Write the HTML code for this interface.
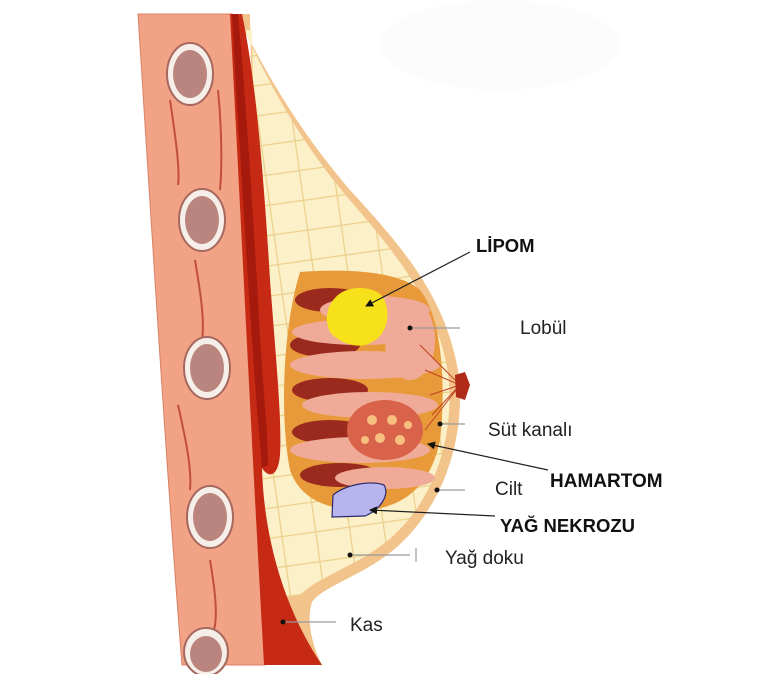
<!DOCTYPE html>
<html><head><meta charset="utf-8"><style>
html,body{margin:0;padding:0;background:#fff;width:768px;height:674px;overflow:hidden}
svg{display:block}
text{font-family:"Liberation Sans",sans-serif;fill:#222}
.b{font-weight:bold;fill:#111}
</style></head><body>
<svg width="768" height="674" viewBox="0 0 768 674" xmlns="http://www.w3.org/2000/svg">
<defs>
<pattern id="grid" width="34" height="30" patternUnits="userSpaceOnUse" patternTransform="rotate(-8)">
<rect width="34" height="30" fill="#fbf0c8"/>
<path d="M0 0H34M0 0V30" stroke="#ecd08a" stroke-width="2.5" fill="none"/>
</pattern>
<marker id="ar" markerWidth="8" markerHeight="8" refX="7" refY="4" orient="auto" markerUnits="userSpaceOnUse"><path d="M0 0L8 4L0 8Z" fill="#111"/></marker>
</defs>
<ellipse cx="500" cy="45" rx="120" ry="45" fill="#fcfcfc"/>
<path d="M236 14 C260 60 290 120 350 190 C410 255 445 300 458 370 C468 440 440 520 380 560 C350 580 322 588 312 602 C306 620 312 645 322 665 L262 665 L250 14Z" fill="#f2c48c"/>
<path d="M244 30 C268 80 295 135 348 198 C402 260 436 305 448 372 C456 440 432 512 375 550 C345 570 318 578 300 595 L262 600 L252 30Z" fill="url(#grid)"/>
<path d="M138 14 L232 14 C240 200 252 450 265 665 L182 665 C165 450 150 200 138 14Z" fill="#f2a285" stroke="#d98066" stroke-width="1"/>
<path d="M170 100 C176 140 180 170 178 185 M195 260 C200 290 205 320 202 340 M178 405 C186 440 192 470 190 490 M210 560 C215 590 218 615 214 630 M218 90 C222 130 222 170 220 190" stroke="#c0503c" stroke-width="2" fill="none"/>
<path d="M230 14 L242 14 C256 80 264 180 270 280 C276 360 282 420 280 455 C278 478 268 478 262 468 C264 540 285 610 322 665 L264 665 C252 450 240 200 230 14Z" fill="#c62a14"/>
<path d="M232 14 L238 14 C246 100 252 200 258 300 C262 380 268 430 268 465 L262 468 C254 380 246 250 240 150 C236 90 234 50 232 14Z" fill="#a51a0c"/>
<g fill="#f6eee9" stroke="#a6685e" stroke-width="2">
<ellipse cx="190" cy="74" rx="23" ry="31"/><ellipse cx="202" cy="220" rx="23" ry="31"/><ellipse cx="207" cy="368" rx="23" ry="31"/><ellipse cx="210" cy="517" rx="23" ry="31"/><ellipse cx="206" cy="652" rx="22" ry="24"/>
</g>
<g fill="#a5625a">
<ellipse cx="190" cy="74" rx="17" ry="24" opacity=".75"/><ellipse cx="202" cy="220" rx="17" ry="24" opacity=".75"/><ellipse cx="207" cy="368" rx="17" ry="24" opacity=".75"/><ellipse cx="210" cy="517" rx="17" ry="24" opacity=".75"/><ellipse cx="206" cy="654" rx="16" ry="18" opacity=".75"/>
</g>
<path d="M300 272 C350 268 400 272 420 290 C445 320 445 400 440 440 C432 480 410 505 370 510 C330 512 300 500 290 470 C280 420 282 330 300 272Z" fill="#e89a3a"/>
<g fill="#9a2a1e">
<ellipse cx="330" cy="300" rx="35" ry="12"/><ellipse cx="325" cy="345" rx="35" ry="12"/><ellipse cx="330" cy="390" rx="38" ry="12"/><ellipse cx="330" cy="432" rx="38" ry="12"/><ellipse cx="340" cy="475" rx="40" ry="12"/>
</g>
<g fill="#f0aa98">
<ellipse cx="375" cy="310" rx="55" ry="14"/><ellipse cx="360" cy="332" rx="68" ry="13"/><ellipse cx="365" cy="365" rx="75" ry="14"/><ellipse cx="370" cy="405" rx="68" ry="13"/><ellipse cx="360" cy="450" rx="70" ry="13"/><ellipse cx="385" cy="478" rx="50" ry="11"/><ellipse cx="410" cy="340" rx="25" ry="40"/>
</g>
<g stroke="#c04020" stroke-width="1" fill="none"><path d="M420 345 L460 385 M425 370 L460 385 M430 395 L460 385 M432 415 L460 385 M425 430 L460 385"/></g>
<path d="M455 375 L465 372 L470 385 L465 400 L456 397Z" fill="#b02a18"/>
<ellipse cx="385" cy="430" rx="38" ry="30" fill="#d8624a"/>
<g fill="#f8c080"><circle cx="372" cy="420" r="5"/><circle cx="392" cy="420" r="5"/><circle cx="380" cy="438" r="5"/><circle cx="400" cy="440" r="5"/><circle cx="365" cy="440" r="4"/><circle cx="408" cy="425" r="4"/></g>
<path d="M335 298 C345 285 372 285 382 296 C392 310 388 335 372 342 C360 350 340 344 330 332 C324 320 327 306 335 298Z" fill="#f7e11a"/>
<path d="M333 495 C345 485 370 480 384 485 C390 495 380 510 365 516 L332 517Z" fill="#b7b4ee" stroke="#2a2a70" stroke-width="1.2"/>
<g stroke="#222" stroke-width="1.2" fill="none">
<line x1="470" y1="252" x2="366" y2="306" marker-end="url(#ar)"/>
<line x1="548" y1="470" x2="428" y2="444" marker-end="url(#ar)"/>
<line x1="495" y1="516" x2="370" y2="510" marker-end="url(#ar)"/>
</g>
<g stroke="#999" stroke-width="1.2">
<line x1="410" y1="328" x2="460" y2="328"/><line x1="440" y1="424" x2="465" y2="424"/><line x1="437" y1="490" x2="465" y2="490"/><line x1="350" y1="555" x2="410" y2="555"/><line x1="416" y1="548" x2="416" y2="562"/><line x1="283" y1="622" x2="336" y2="622"/>
</g>
<g fill="#111"><circle cx="410" cy="328" r="2.5"/><circle cx="440" cy="424" r="2.5"/><circle cx="437" cy="490" r="2.5"/><circle cx="350" cy="555" r="2.5"/><circle cx="283" cy="622" r="2.5"/></g>
<text x="476" y="252" font-size="18.5" class="b">LİPOM</text>
<text x="520" y="334" font-size="19">Lobül</text>
<text x="488" y="436" font-size="19">Süt kanalı</text>
<text x="550" y="487" font-size="19" class="b">HAMARTOM</text>
<text x="495" y="495" font-size="19">Cilt</text>
<text x="500" y="532" font-size="18.5" class="b">YAĞ NEKROZU</text>
<text x="445" y="564" font-size="19">Yağ doku</text>
<text x="350" y="631" font-size="19">Kas</text>
</svg>
</body></html>
